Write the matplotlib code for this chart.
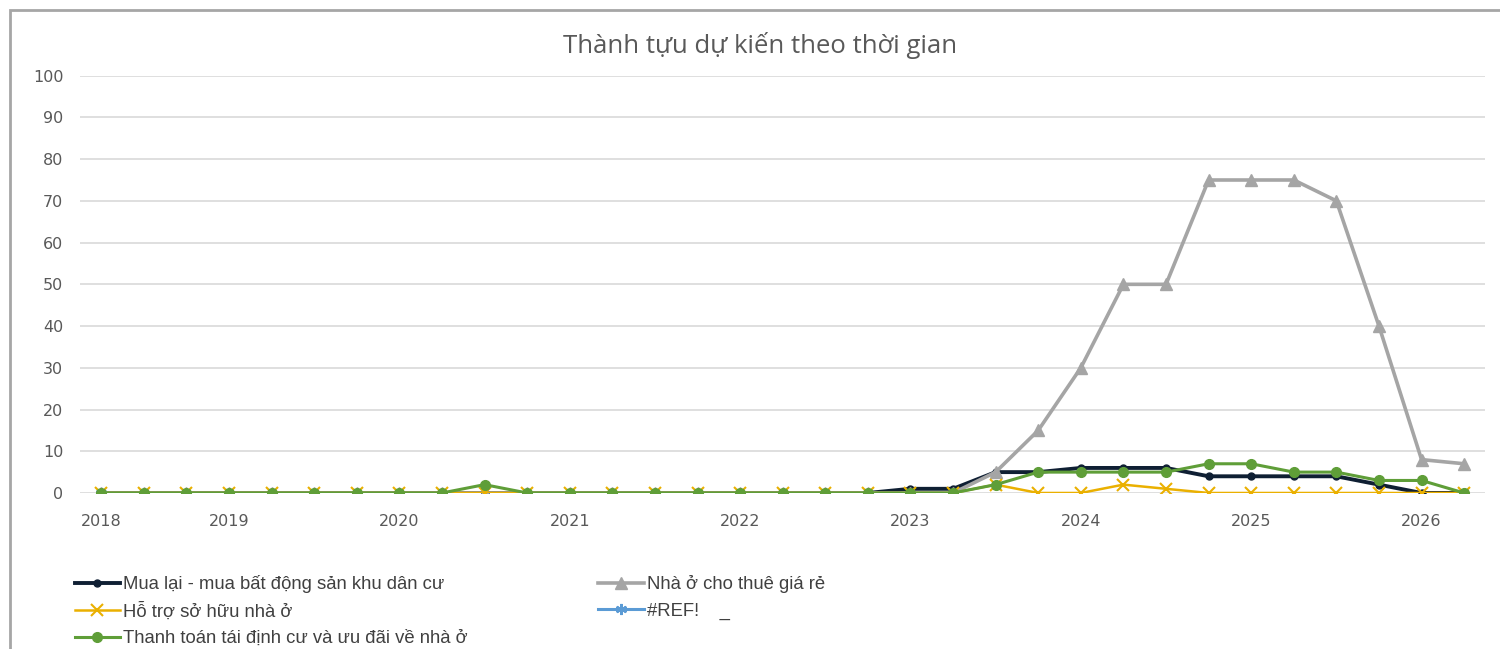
import matplotlib
matplotlib.use("Agg")
import matplotlib.pyplot as plt
from matplotlib.patches import Rectangle
import numpy as np

# quarterly points, 2018 .. 2026
year_labels = ["2018", "2019", "2020", "2021", "2022", "2023", "2024", "2025", "2026"]
year_idx = [0, 3, 7, 11, 15, 19, 23, 27, 31]

mua_lai = [0, 0, 0, 0, 0, 0, 0, 0, 0, 0, 0, 0, 0, 0, 0, 0, 0, 0, 0,
           1, 1, 5, 5, 6, 6, 6, 4, 4, 4, 4, 2, 0, 0]
nha_o = [0, 0, 0, 0, 0, 0, 0, 0, 0, 0, 0, 0, 0, 0, 0, 0, 0, 0, 0,
         0, 0, 5, 15, 30, 50, 50, 75, 75, 75, 70, 40, 8, 7]
ho_tro = [0, 0, 0, 0, 0, 0, 0, 0, 0, 0, 0, 0, 0, 0, 0, 0, 0, 0, 0,
          0, 0, 2, 0, 0, 2, 1, 0, 0, 0, 0, 0, 0, 0]
ref = [0]
thanh_toan = [0, 0, 0, 0, 0, 0, 0, 0, 0, 2, 0, 0, 0, 0, 0, 0, 0, 0, 0,
              0, 0, 2, 5, 5, 5, 5, 7, 7, 5, 5, 3, 3, 0]

names = ["Mua lại - mua bất động sản khu dân cư",
         "Nhà ở cho thuê giá rẻ",
         "Hỗ trợ sở hữu nhà ở",
         "#REF!    _",
         "Thanh toán tái định cư và ưu đãi về nhà ở"]

x = np.arange(len(mua_lai))

plt.rcParams['font.family'] = ['Open Sans', 'DejaVu Sans']

fig = plt.figure(figsize=(15, 6.49), dpi=100)
ax = fig.add_axes([0.0533, 0.2404, 0.937, 0.643])

l1, = ax.plot(x, mua_lai, color='#0f1f33', lw=2.8, marker='o', ms=5)
l2, = ax.plot(x, nha_o, color='#a5a5a5', lw=2.6, marker='^', ms=8)
l3, = ax.plot(x, ho_tro, color='#eab000', lw=1.8, marker='x', ms=8, mew=1.5)
l4, = ax.plot(x[:len(ref)], ref, color='#5b9bd5', lw=2.2, marker=(6, 2, 0), ms=8, mew=1.5)
l5, = ax.plot(x, thanh_toan, color='#5f9e38', lw=2.2, marker='o', ms=7)

ax.set_xlim(-0.5, 32.5)
ax.set_ylim(0, 100)
ax.set_yticks(np.arange(0, 101, 10))
ax.set_xticks(year_idx)
ax.set_xticklabels(year_labels)
ax.grid(axis='y', color='#d9d9d9', lw=1.2)
ax.set_axisbelow(True)
for s in ax.spines.values():
    s.set_visible(False)
ax.tick_params(axis='both', length=0, labelsize=11.5, labelcolor='#595959')
for lab in ax.get_xticklabels() + ax.get_yticklabels():
    lab.set_family('DejaVu Sans')
ax.tick_params(axis='y', pad=12)
ax.tick_params(axis='x', pad=15)

fig.text(0.507, 0.93, "Thành tựu dự kiến theo thời gian", ha='center', va='center',
         fontsize=18.5, color='#595959')

fig.legend([l1, l3, l5, l2, l4], [names[0], names[2], names[4], names[1], names[3]],
           ncol=2, loc='upper left', bbox_to_anchor=(0.0387, 0.139), frameon=False,
           prop={'family': 'Liberation Sans', 'size': 13.3}, labelcolor='#404040',
           handlelength=2.45, handletextpad=0.15, columnspacing=7.1, labelspacing=0.5)

# chart area border
fig.patches.append(Rectangle((10 / 1500, -0.2), 1.2, 1.2 - 10 / 649, transform=fig.transFigure,
                             fill=False, edgecolor='#a6a6a6', lw=2, figure=fig))

fig.savefig("out.png", dpi=100)
